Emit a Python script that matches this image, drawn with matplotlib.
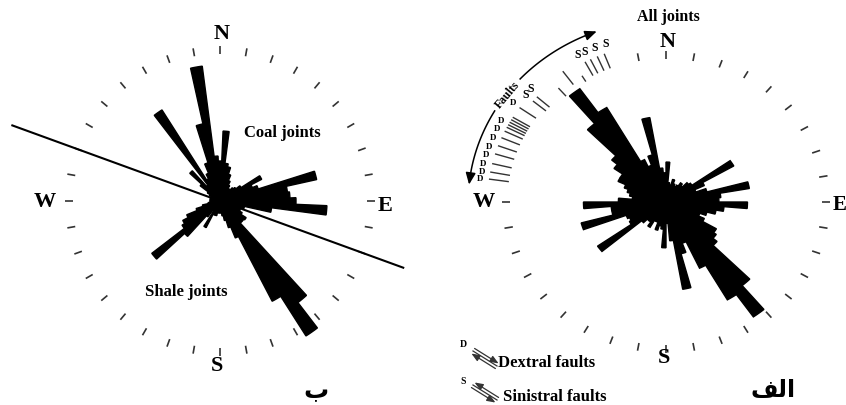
import numpy as np
import matplotlib
matplotlib.use("Agg")
import matplotlib.pyplot as plt

W, H = 846, 406
SERIF = ["Liberation Serif", "DejaVu Serif"]
ARABIC = ["DejaVu Sans"]

# left rose (ب): 5 deg bins centred on 0, 5, ... 355, lengths in px
left_az = np.arange(0, 360, 5)
left_len = [40, 70, 38, 35, 28, 22, 18, 15, 15, 18,       # 0-45
            20, 25, 47, 35, 40, 99, 68, 70, 76, 107,      # 50-95
            52, 25, 20, 22, 25, 31, 30, 30, 128, 160,     # 100-145
            113, 40, 28, 20, 15, 12, 12, 12, 12, 15,      # 150-195
            15, 15, 30, 12, 20, 48, 86, 45, 42, 36,       # 200-245
            25, 18, 12, 10, 10, 10, 10, 10, 10, 10,       # 250-295
            12, 15, 25, 41, 20, 108, 25, 30, 40, 79,      # 300-345
            136, 45]                                      # 350-355

# right rose (الف, all joints): 5 deg bins centred on 2.5, 7.5, ...
right_az = np.arange(2.5, 360, 5)
right_len = [41, 20, 18, 24, 20, 18, 20, 24, 22, 28,      # 2.5-47.5
             30, 74, 40, 30, 40, 80, 52, 50, 77, 55,      # 52.5-97.5
             48, 40, 34, 40, 55, 58, 63, 112, 144, 116,   # 102.5-147.5
             75, 45, 55, 91, 40, 22, 47, 28, 25, 30,      # 152.5-197.5
             22, 22, 30, 25, 25, 30, 79, 40, 38, 40,      # 202.5-247.5
             83, 52, 52, 78, 45, 32, 35, 38, 42, 50,      # 252.5-297.5
             50, 60, 67, 105, 142, 112, 48, 40, 50, 88,   # 302.5-347.5
             35, 30]                                      # 352.5-357.5

# faults drawn outside the right rose
dextral_az = [278, 280.5, 283.5, 287, 290, 293, 295.5, 297, 298, 299, 300, 301, 305]
sinistral_az = [309.5, 311.5, 332, 334, 336.5, 339]
other_az = [319, 324, 328.5]
other_r0 = [144, 149, 145]
other_r1 = [155, 166, 152]
d_label_az = [305.4, 298.3, 295.5, 292.3, 288.9, 286, 283, 280.5, 278]
s_label_az = [309.8, 312.5, 331.2, 333.7, 337, 340.7]

ring_left = np.arange(0, 360, 10)
ring_right = [a for a in range(0, 360, 10) if not 280 <= a <= 340]

R = 170
fig = plt.figure(figsize=(W / 100, H / 100), dpi=100)


def box(cx, cy, rx, ry):
    return [(cx - rx) / W, (H - cy - ry) / H, 2 * rx / W, 2 * ry / H]


def ftext(x, y, s, size, **kw):
    kw.setdefault("family", SERIF)
    kw.setdefault("fontweight", "bold")
    kw.setdefault("ha", "center")
    kw.setdefault("va", "center")
    fig.text(x / W, 1 - y / H, s, fontsize=size, **kw)


axL = fig.add_axes(box(220, 202, R, R), projection="polar")
axR = fig.add_axes(box(666, 203, R * 1.058, R * 0.974), projection="polar")
axR.set_aspect("auto")

for ax in (axL, axR):
    ax.set_theta_zero_location("N")
    ax.set_theta_direction(-1)
    ax.set_ylim(0, R)
    ax.axis("off")
    ax.patch.set_visible(False)

axL.bar(np.radians(left_az), left_len, width=np.radians(5), color="black",
        edgecolor="black", linewidth=1.0, clip_on=False)
axR.bar(np.radians(right_az), right_len, width=np.radians(5), color="black",
        edgecolor="black", linewidth=1.0, clip_on=False)

axL.vlines(np.radians(ring_left), 147, 155, colors="0.2", lw=1.2, clip_on=False)
axR.vlines(np.radians(ring_right), 147, 155, colors="0.2", lw=1.2, clip_on=False)

# coal / shale divider
axL.plot(np.radians([290, 290, 110, 110]), [221, 0, 0, 195], color="k", lw=1.5,
         clip_on=False)

# fault traces
axR.vlines(np.radians(dextral_az), 150, 169, colors="0.2", lw=1.0, clip_on=False)
axR.vlines(np.radians(sinistral_az), 147, 163, colors="0.2", lw=1.0, clip_on=False)
axR.vlines(np.radians(other_az), other_r0, other_r1, colors="0.2", lw=1.0, clip_on=False)
for a in d_label_az:
    axR.text(np.radians(a), 177, "D", fontsize=6.5, fontweight="bold", family=SERIF,
             ha="center", va="center", clip_on=False)
for a in s_label_az:
    axR.text(np.radians(a), 173, "S", fontsize=8.5, fontweight="bold", family=SERIF,
             ha="center", va="center", clip_on=False)

# arc arrow "Faults"
for a0, a1 in ((278, 300), (312.5, 337)):
    t = np.radians(np.linspace(a0, a1, 40))
    axR.plot(t, np.full_like(t, 187), color="k", lw=1.1, clip_on=False)
for tip, tail in ((275.5, 279), (339.5, 336)):
    axR.annotate("", xy=(np.radians(tip), 187), xytext=(np.radians(tail), 187),
                 arrowprops=dict(arrowstyle="-|>,head_length=0.7,head_width=0.3",
                                 color="k", lw=1.1, shrinkA=0, shrinkB=0),
                 annotation_clip=False)
ftext(508, 95, "Faults", 8.5, rotation=50)

# compass letters and titles
ftext(222, 34, "N", 16)
ftext(217, 366, "S", 16)
ftext(45, 202, "W", 16)
ftext(385, 206, "E", 16)
ftext(282, 133, "Coal joints", 12)
ftext(186, 292, "Shale joints", 12)

ftext(668, 42, "N", 16)
ftext(664, 358, "S", 16)
ftext(484, 202, "W", 16)
ftext(833, 205, "E", 15, ha="left")
ftext(668, 17, "All joints", 11.5)

# legend
ftext(463, 345, "D", 7)
ftext(463, 382, "S", 7)
ftext(498, 363, "Dextral faults", 12, ha="left")
ftext(503, 397, "Sinistral faults", 12, ha="left")


def fault_symbol(x0, y0, x1, y1, dextral):
    d = np.array([x1 - x0, y1 - y0], float)
    d /= np.hypot(*d)
    p = np.array([-d[1], d[0]])
    for k in (-1, 0, 1):
        a = np.array([x0, y0]) + k * 3 * p
        b = np.array([x1, y1]) + k * 3 * p
        if k == 0:
            fig.add_artist(plt.Line2D([a[0] / W, b[0] / W], [1 - a[1] / H, 1 - b[1] / H],
                                      color="0.2", lw=0.9))
            continue
        s, e = (a, b) if (k == -1) == dextral else (b, a)
        fig.axes[0].annotate("", xy=(e[0], H - e[1]), xytext=(s[0], H - s[1]),
                             xycoords="figure pixels", textcoords="figure pixels",
                             arrowprops=dict(arrowstyle="-|>,head_length=0.5,head_width=0.2",
                                             color="0.2", lw=0.9, shrinkA=0, shrinkB=0),
                             annotation_clip=False)


fault_symbol(473, 352, 497, 367, True)
fault_symbol(473, 386, 497, 401, False)

# panel letters (presentation forms, visual order)
ftext(316, 391, "\uFE8F", 18, family=ARABIC)
ftext(773, 390, "\uFED2\uFEDF\uFE8D", 17, family=ARABIC)

fig.savefig("out.png", dpi=100)
